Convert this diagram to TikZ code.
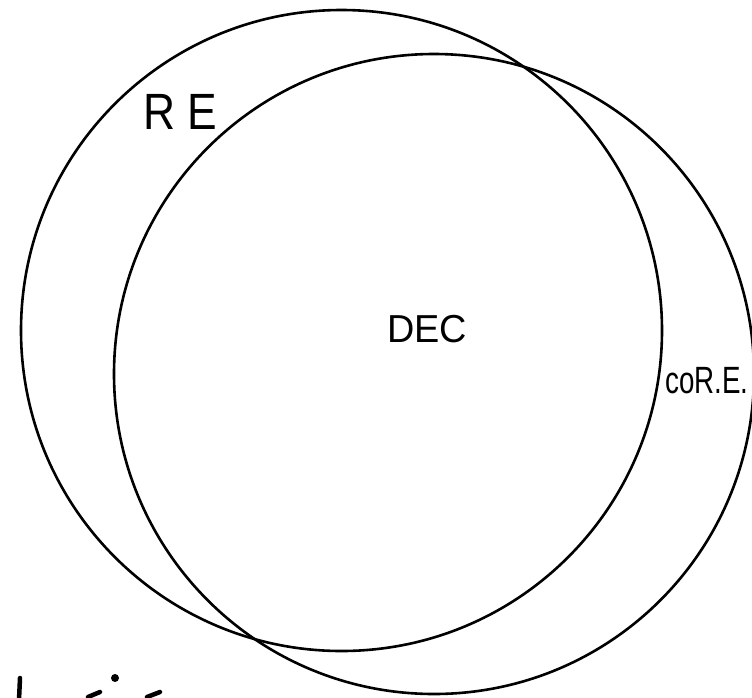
\documentclass[tikz,border=0pt]{standalone}
\usepackage{fontspec}
\setmainfont{Liberation Sans}
\begin{document}
\begin{tikzpicture}[x=1pt,y=-1pt]
\tikzset{
  ring/.style={circle, draw=black, line width=2.6pt, inner sep=0pt},
  lbl/.style={inner sep=0pt, anchor=center},
  scrib/.style={line width=4.5pt, line cap=round}
}
\useasboundingbox (0,0) rectangle (752,697);
\clip (0,0) rectangle (752,697);
\fill[white] (0,0) rectangle (752,697);
\node[ring, minimum size=641pt] (re) at (341.5,330.5) {};
\node[ring, minimum size=640pt] (core) at (434,374) {};
\node[lbl] (relbl) at (180,112) {\scalebox{0.87}[1]{\fontsize{51}{51}\selectfont R E}};
\node[lbl] (dec) at (427,329) {\scalebox{0.97}[1]{\fontsize{39}{39}\selectfont DEC}};
\node[lbl] (corelbl) at (707,381) {\scalebox{0.73}[1]{\fontsize{38}{38}\selectfont coR.E.}};
\draw[scrib] (20,678) -- (19,700);
\fill (115,678) circle (4pt);
\draw[scrib] (88,697) -- (100,692);
\draw[scrib] (147,697) -- (160,692);
\end{tikzpicture}
\end{document}
